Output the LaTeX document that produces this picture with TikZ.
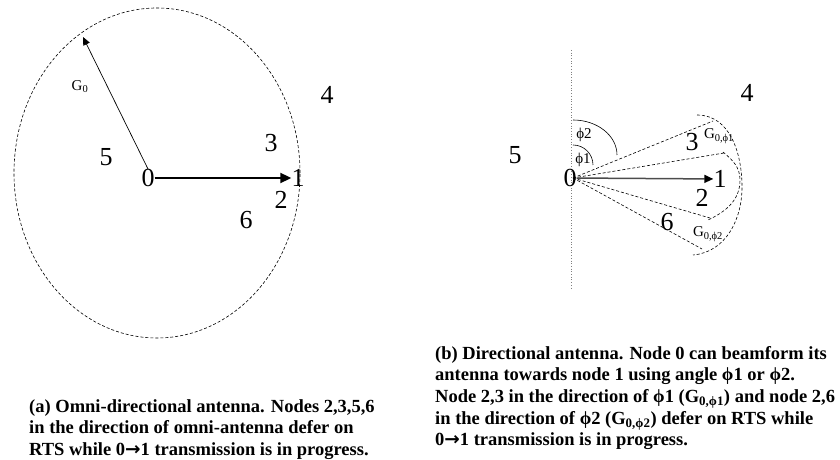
\documentclass[tikz,border=0pt]{standalone}
\usepackage{fontspec}
\setmainfont{Liberation Serif}
\newfontfamily\arrowfont{DejaVu Sans}
\newcommand{\fii}{\symbol{"03D5}}
\newcommand{\toarrow}{{\arrowfont\bfseries →}}
\usetikzlibrary{arrows.meta}
\begin{document}
\begin{tikzpicture}[x=1pt, y=1pt,
			num/.style={font=\fontsize{26}{26}\selectfont, inner sep=0pt},
			lbl/.style={font=\fontsize{15}{15}\selectfont, inner sep=0pt},
			beam/.style={dashed, dash pattern=on 3pt off 2pt, line width=0.6pt},
			captext/.style={align=left, inner sep=0pt, font=\bfseries\fontsize{18.5}{21.6}\selectfont}]
		\useasboundingbox (0,0) rectangle (840,460);
		% (a) omni-directional antenna
		\draw[beam] (157,287) ellipse[x radius=143, y radius=165];
		\node[num] (a0) at (148,282) {0};
		\node[num] (a1) at (298,282) {1};
		\node[num] (a2) at (281,260) {2};
		\node[num] (a3) at (271,317) {3};
		\node[num] (a4) at (327,365) {4};
		\node[num] (a5) at (106,303) {5};
		\node[num] (a6) at (246,240) {6};
		\coordinate (g0) at (83,423);
		\node[lbl] (ga) at (80,373) {G\textsubscript{0}};
		\draw[line width=2pt, -{Triangle[length=11pt, width=10pt]}] (a0) -- (a1);
		\draw[line width=0.7pt, -{Triangle[length=8pt, width=7pt]}] (a0.north) -- (g0);
		% (b) directional antenna
		\draw[dotted, line width=0.7pt, gray] (571,410) -- (571,172);
		\node[num] (b0) at (570,282) {0};
		\node[num] (b1) at (720,281) {1};
		\node[num] (b2) at (702,262) {2};
		\node[num] (b3) at (692,318) {3};
		\node[num] (b4) at (747,367) {4};
		\node[num] (b5) at (515,305) {5};
		\node[num] (b6) at (667,238) {6};
		\coordinate (bo) at (573,282);
		\coordinate (e1) at (713,339);
		\coordinate (e2) at (724,307);
		\coordinate (e3) at (710,242);
		\coordinate (e4) at (702,211);
		\draw[beam] (bo) -- (e1);
		\draw[beam] (bo) -- (e2);
		\draw[beam] (bo) -- (e3);
		\draw[beam] (bo) -- (e4);
		\draw[beam] (697,345) to[out=0, in=90] (742,273) to[out=-90, in=5] (693,205);
		\draw[beam] (723,308) to[out=-40, in=90] (740,280) to[out=-90, in=25] (708,240);
		\draw[line width=1.5pt, gray!60!black, -{Triangle[length=9pt, width=8pt, black]}] (b0) -- (b1);
		% angles
		\draw[line width=0.6pt] (573,340) arc[start angle=90, end angle=0, x radius=44, y radius=35];
		\draw[line width=0.6pt] (573,315) arc[start angle=90, end angle=0, radius=20];
		\node[lbl] (p2) at (584,325) {\fii2};
		\node[lbl] (p1) at (583,300) {\fii1};
		\node[lbl] (gb1) at (719,324) {G\textsubscript{0,\fii1}};
		\node[lbl] (gb2) at (708,226) {G\textsubscript{0,\fii2}};
		% captions
		\node[captext, anchor=north west] (capa) at (29,61)
			{(a) Omni-directional antenna. Nodes 2,3,5,6\\
			 in the direction of omni-antenna defer on\\
			 RTS while 0\toarrow1 transmission is in progress.};
		\node[captext, anchor=north west] (capb) at (435,114)
			{(b) Directional antenna. Node 0 can beamform its\\
			 antenna towards node 1 using angle \fii1 or \fii2.\\
			 Node 2,3 in the direction of \fii1 (G\textsubscript{0,\fii1}) and node 2,6\\
			 in the direction of \fii2 (G\textsubscript{0,\fii2}) defer on RTS while\\
			 0\toarrow1 transmission is in progress.};
	\end{tikzpicture}
\end{document}
